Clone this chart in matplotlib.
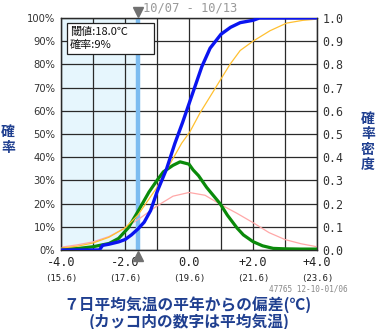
import numpy as np
import matplotlib.pyplot as plt
import matplotlib.transforms as mtransforms
from matplotlib.patches import Rectangle

plt.rcParams['font.family'] = ['DejaVu Sans']

# data
blue_x = [-4.0, -3.0, -2.8, -2.7, -2.5, -2.2, -2.0, -1.8, -1.6, -1.4, -1.2, -1.0, -0.7, -0.44, -0.2, 0.0, 0.2, 0.4, 0.66, 1.0, 1.3, 1.6, 2.0, 2.2, 4.0]
blue_y = [0, 0, 0, 2, 2.5, 3.5, 4.5, 6.5, 9, 12, 17, 25, 35, 46, 55, 63, 71, 79, 87, 93, 96, 98, 99, 100, 100]

yel_x = [-4.0, -3.5, -3.0, -2.5, -2.0, -1.6, -1.2, -1.0, -0.7, -0.23, 0.03, 0.34, 0.9, 1.28, 1.6, 2.0, 2.53, 3.05, 3.56, 4.0]
yel_y = [0.8, 1.6, 3.0, 5.5, 9.5, 15, 23, 27, 34.5, 46, 51, 59, 71.5, 80, 86, 90, 94.5, 97.8, 99, 99.5]

grn_x = [-4.0, -3.5, -3.0, -2.5, -2.2, -1.9, -1.6, -1.25, -1.0, -0.8, -0.5, -0.28, 0.0, 0.13, 0.3, 0.55, 0.97, 1.2, 1.5, 1.7, 2.0, 2.3, 2.63, 3.0, 3.5, 4.0]
grn_y = [0.004, 0.006, 0.014, 0.028, 0.05, 0.095, 0.165, 0.25, 0.30, 0.337, 0.365, 0.38, 0.37, 0.345, 0.32, 0.27, 0.20, 0.15, 0.095, 0.065, 0.036, 0.018, 0.007, 0.005, 0.004, 0.004]

pnk_x = [-4.0, -3.5, -3.0, -2.5, -2.0, -1.5, -1.0, -0.5, 0.0, 0.5, 1.0, 1.5, 2.0, 2.5, 3.0, 3.5, 4.0]
pnk_y = [0.012, 0.022, 0.035, 0.058, 0.095, 0.14, 0.19, 0.232, 0.248, 0.236, 0.195, 0.158, 0.118, 0.075, 0.045, 0.027, 0.014]

threshold = -1.6
prob_ticks = list(range(0, 101, 10))
dens_ticks = [round(0.1 * i, 1) for i in range(11)]
x_ticks = [-4.0, -2.0, 0.0, 2.0, 4.0]
x_labels = ['-4.0', '-2.0', '0.0', '+2.0', '+4.0']
x_temps = ['(15.6)', '(17.6)', '(19.6)', '(21.6)', '(23.6)']

fig = plt.figure(figsize=(3.78, 3.29), dpi=100)
ax = fig.add_axes([61/378, 1-250/329, 256/378, 232/329])
ax2 = ax.twinx()
ax.set_zorder(2)
ax.patch.set_visible(False)
ax2.set_zorder(1)

ax.set_xlim(-4, 4)
ax.set_ylim(0, 100)
ax2.set_ylim(0, 1)

ax2.axvspan(-4, threshold, color='#e6f6fd', zorder=0)
for gx in np.arange(-4, 4.01, 1.0):
    ax2.axvline(gx, color='#2a2a2a', lw=0.9, zorder=1)
for gy in prob_ticks:
    ax2.axhline(gy / 100, color='#2a2a2a', lw=0.9, zorder=1)
ax2.axvline(threshold, color='#7cbcf0', lw=3.2, zorder=2)

ax2.plot(pnk_x, pnk_y, color='#ffa8a8', lw=0.9, zorder=3)
ax2.plot(grn_x, grn_y, color='#0a8a0a', lw=2.3, zorder=4)
ax.plot(yel_x, yel_y, color='#ffc030', lw=0.9, zorder=3)
ax.plot(blue_x, blue_y, color='#0a14f0', lw=2.4, zorder=5)

for a in (ax, ax2):
    for s in a.spines.values():
        s.set_color('#2a2a2a')
        s.set_linewidth(0.9)
    a.tick_params(length=0)

ax.set_yticks(prob_ticks)
ax.set_yticklabels([f'{v}%' for v in prob_ticks], fontsize=7.2, color='#333333')
ax.tick_params(axis='y', pad=4)
ax2.set_yticks(dens_ticks)
ax2.set_yticklabels([f'{v:.1f}' for v in dens_ticks], fontsize=8.4, color='#333333', family='DejaVu Sans Mono')
ax2.tick_params(axis='y', pad=4)
ax.set_xticks([])

trans = mtransforms.blended_transform_factory(ax.transData, ax.transAxes)
for xv, lab, tmp in zip(x_ticks, x_labels, x_temps):
    ax.text(xv, -0.055, lab, transform=trans, ha='center', va='center', fontsize=8.6, color='#222222', family='DejaVu Sans Mono')
    ax.text(xv, -0.125, tmp, transform=trans, ha='center', va='center', fontsize=6.5, color='#222222', family='DejaVu Sans Mono')

ax.plot([threshold], [1.027], marker='v', ms=7, color='#707070', transform=trans, clip_on=False, zorder=6)
ax.plot([threshold], [-0.028], marker='^', ms=7, color='#707070', transform=trans, clip_on=False, zorder=6)

fig.text(190/378, 1-8/329, '10/07 - 10/13', ha='center', va='center', fontsize=8.7, color='#999999', family='DejaVu Sans Mono')
fig.text(348/378, 1-289/329, '47765 12-10-01/06', ha='right', va='center', fontsize=5.6, color='#888888', family='DejaVu Sans Mono')

jp = ['Noto Sans CJK JP', 'DejaVu Sans']
# threshold box
ax.add_patch(Rectangle((6/256, 196/232), 87/256, 31/232, transform=ax.transAxes,
                       fc='white', ec='#222222', lw=0.9, zorder=7))
ax.text(9/256, (250-32)/232, '閾値:18.0℃', transform=ax.transAxes, ha='left', va='center',
        fontsize=8, color='#111111', family=jp, zorder=8)
ax.text(9/256, (250-44.5)/232, '確率:9%', transform=ax.transAxes, ha='left', va='center',
        fontsize=8, color='#111111', family=jp, zorder=8)

navy = '#1f3f90'
fig.text(188/378, 1-305/329, '７日平均気温の平年からの偏差(℃)', ha='center', va='center', fontsize=11.3, color=navy, weight='bold', family=jp)
fig.text(189/378, 1-322/329, '(カッコ内の数字は平均気温)', ha='center', va='center', fontsize=11.3, color=navy, weight='bold', family=jp)
fig.text(8/378, 1-140/329, '確\n率', ha='center', va='center', fontsize=10, color=navy, weight='bold', family=jp, linespacing=1.1)
fig.text(368/378, 1-142/329, '確\n率\n密\n度', ha='center', va='center', fontsize=10, color=navy, weight='bold', family=jp, linespacing=1.1)

fig.savefig('out.png', dpi=100)
